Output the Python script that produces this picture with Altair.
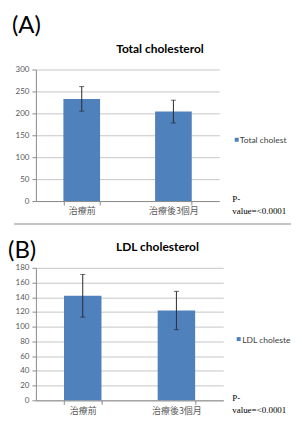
import altair as alt
import pandas as pd

groups = ["治療前", "治療後3個月"]
total_mean = [233, 204]
total_err = [28, 26]
ldl_mean = [142, 122]
ldl_err = [29, 26]
total_ticks = [0, 50, 100, 150, 200, 250, 300]
ldl_ticks = [0, 20, 40, 60, 80, 100, 120, 140, 160, 180]
pvalue_lines = ["P-", "value=<0.0001"]

BAR = "#4f81bd"
GRID = "#c6c6c6"
AXIS = "#8c8c8c"
LABEL = "#595959"


def panel(letter, title, series, means, errs, ticks, width, height,
          letter_xy, title_xy, sq_xy, leg_xy, leg_limit, p_xy, sep=None):
    df = pd.DataFrame({
        "group": groups,
        "mean": means,
        "lo": [m - e for m, e in zip(means, errs)],
        "hi": [m + e for m, e in zip(means, errs)],
    })
    xscale = alt.Scale(paddingInner=0.6, paddingOuter=0.3)
    yscale = alt.Scale(domain=[ticks[0], ticks[-1]], nice=False, zero=True)
    xaxis = alt.Axis(title=None, labelAngle=0, tickBand="extent",
                     domainColor=AXIS, tickColor=AXIS, tickSize=4,
                     labelPadding=2, labelFont="Noto Sans CJK TC",
                     labelFontSize=9, labelColor=LABEL, grid=False)
    yaxis = alt.Axis(title=None, values=ticks, domainColor=AXIS,
                     tickColor=AXIS, tickSize=4, labelPadding=3,
                     labelFont="Lato", labelFontSize=8,
                     labelColor=LABEL, grid=True, gridColor=GRID,
                     gridWidth=1)
    x = alt.X("group:N", sort=groups, scale=xscale, axis=xaxis)

    def yq(field):
        return alt.Y(field, scale=yscale, axis=yaxis, title=None)

    base = alt.Chart(df)
    bars = base.mark_bar(color=BAR).encode(x=x, y=yq("mean:Q"))
    err = base.mark_rule(color="#2b2b2b", strokeWidth=1).encode(
        x=x, y=yq("lo:Q"), y2="hi:Q")
    cap_lo = base.mark_tick(color="#2b2b2b", thickness=1, size=5).encode(
        x=x, y=yq("lo:Q"))
    cap_hi = base.mark_tick(color="#2b2b2b", thickness=1, size=5).encode(
        x=x, y=yq("hi:Q"))

    letter_t = alt.Chart(pd.DataFrame({"t": [letter]})).mark_text(
        align="left", baseline="top", font="Lato", fontSize=24, color="#000"
    ).encode(x=alt.value(letter_xy[0]), y=alt.value(letter_xy[1]), text="t:N")
    title_t = alt.Chart(pd.DataFrame({"t": [title]})).mark_text(
        align="center", baseline="middle", font="Lato", fontSize=12,
        fontWeight="bold", color="#000"
    ).encode(x=alt.value(title_xy[0]), y=alt.value(title_xy[1]), text="t:N")
    leg_df = pd.DataFrame({"s": [series]})
    leg_sq = alt.Chart(leg_df).mark_square(color=BAR, size=16, opacity=1).encode(
        x=alt.value(sq_xy[0]), y=alt.value(sq_xy[1]))
    leg_t = alt.Chart(leg_df).mark_text(
        align="left", baseline="middle", font="Lato", fontSize=8.5,
        color="#404040", limit=leg_limit, ellipsis="\u200b"
    ).encode(x=alt.value(leg_xy[0]), y=alt.value(leg_xy[1]), text="s:N")
    p_t = alt.Chart(pd.DataFrame({"t": [0]})).mark_text(
        align="left", baseline="top", font="Liberation Serif", fontSize=9,
        lineHeight=12, color="#000"
    ).encode(x=alt.value(p_xy[0]), y=alt.value(p_xy[1]),
             text=alt.value(pvalue_lines))
    layers = [bars, err, cap_lo, cap_hi, letter_t, title_t, leg_sq, leg_t, p_t]
    if sep is not None:
        sep_r = alt.Chart(pd.DataFrame({"t": [0]})).mark_rule(
            color="#c4c4c4", strokeWidth=2
        ).encode(x=alt.value(sep[0]), x2=alt.value(sep[1]), y=alt.value(sep[2]))
        layers.append(sep_r)
    return alt.layer(*layers).properties(width=width, height=height)


a = panel("(A)", "Total cholesterol", "Total cholesterol", total_mean,
          total_err, total_ticks, 184, 132,
          letter_xy=(-24, -56), title_xy=(124.5, -21), sq_xy=(201.5, 70.5),
          leg_xy=(204.5, 71), leg_limit=51, p_xy=(197, 126))
b = panel("(B)", "LDL cholesterol", "LDL cholesterol", ldl_mean, ldl_err,
          ldl_ticks, 188, 133,
          letter_xy=(-28, -29), title_xy=(122, -21), sq_xy=(203.5, 71.5),
          leg_xy=(207, 72), leg_limit=49, p_xy=(197, 127),
          sep=(-22, 256, -44))

chart = alt.vconcat(a, b, spacing=67, bounds="flush").properties(
    padding={"left": 0, "top": 5, "right": 0, "bottom": 0}
).configure_view(stroke=None)

chart.save("out.html", embed_options={"renderer": "svg", "actions": False})
